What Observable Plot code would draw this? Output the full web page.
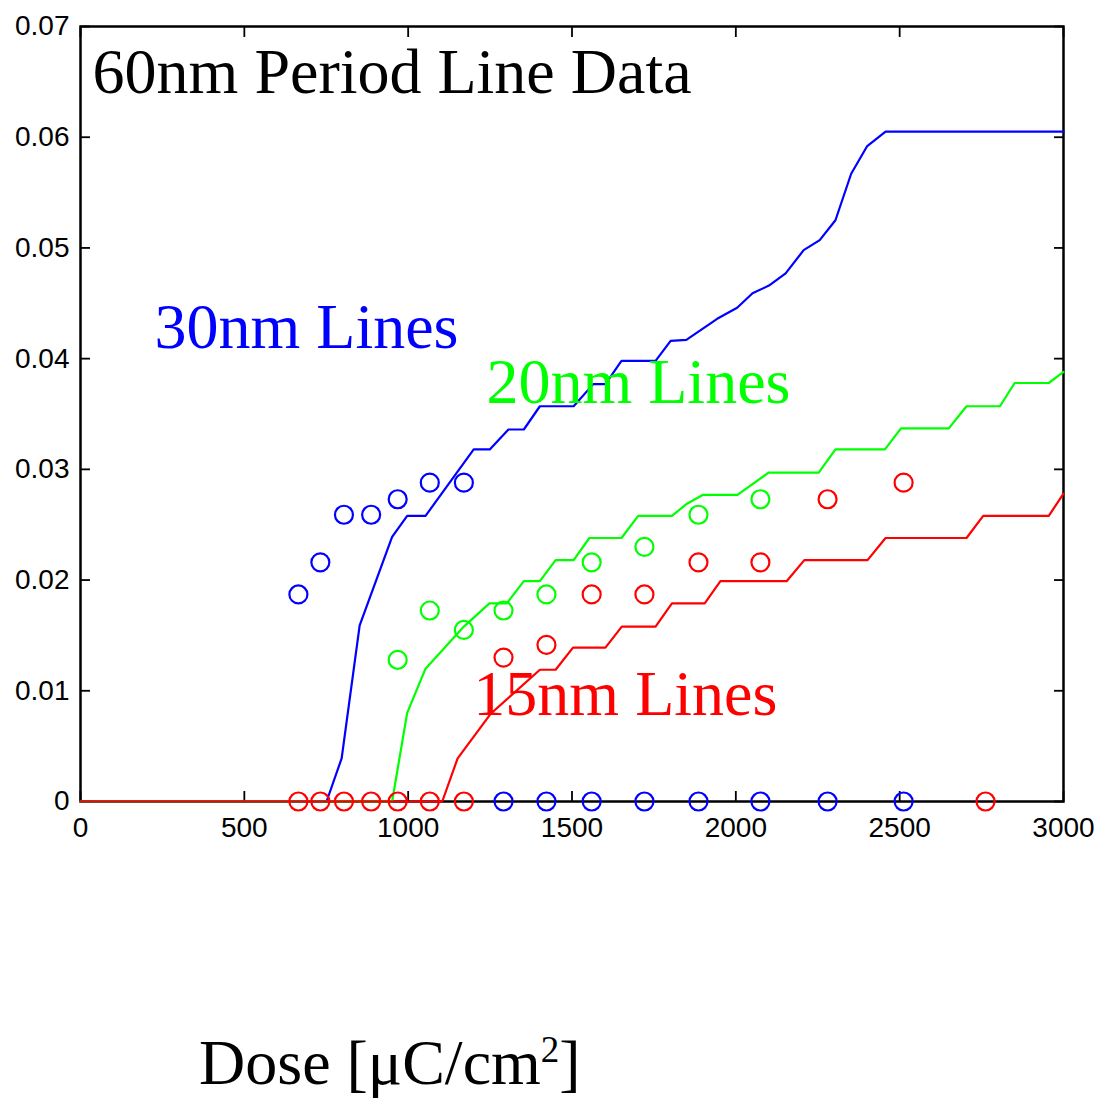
<!DOCTYPE html>
<html><head><meta charset="utf-8">
<script src="https://cdn.jsdelivr.net/npm/d3@7"></script>
<script src="https://cdn.jsdelivr.net/npm/@observablehq/plot@0.6"></script>
<style>
body{margin:0;background:#fff;}
#wrap{position:relative;width:1115px;height:1101px;background:#fff;}
#xlabel{position:absolute;left:199px;top:1031px;font-family:"Liberation Serif","Times New Roman",serif;font-size:64px;line-height:64px;white-space:nowrap;color:#000;}
#xlabel span{font-size:37px;position:relative;top:-22px;}
</style></head>
<body><div id="wrap"><div id="chart"></div><div id="xlabel">Dose [μC/cm<span>2</span>]</div></div>
<script>
// Tick values
const xTicks = [0, 500, 1000, 1500, 2000, 2500, 3000];
const yTicks = [0, 0.01, 0.02, 0.03, 0.04, 0.05, 0.06, 0.07];

// Simulated curves (lines)
const line30Dose = [0, 751, 797, 852, 951, 997, 1053, 1200, 1249, 1306, 1353, 1402, 1505, 1565, 1602, 1651, 1755, 1801, 1849, 1943, 2004, 2051, 2101, 2152, 2207, 2256, 2304, 2352, 2401, 2457, 3000];
const line30Val  = [0, 0, 0.0039, 0.0159, 0.0239, 0.0258, 0.0258, 0.0318, 0.0318, 0.0336, 0.0336, 0.0357, 0.0357, 0.0377, 0.0377, 0.0398, 0.0398, 0.0416, 0.0417, 0.0436, 0.0446, 0.0459, 0.0466, 0.0477, 0.0498, 0.0507, 0.0525, 0.0567, 0.0592, 0.0605, 0.0605];

const line20Dose = [0, 951, 997, 1053, 1170, 1248, 1301, 1353, 1402, 1450, 1505, 1553, 1651, 1702, 1805, 1851, 1900, 2005, 2100, 2253, 2304, 2455, 2504, 2650, 2704, 2806, 2851, 2955, 3000];
const line20Val  = [0, 0, 0.0080, 0.0120, 0.0158, 0.0179, 0.0179, 0.0199, 0.0199, 0.0218, 0.0218, 0.0238, 0.0238, 0.0258, 0.0258, 0.0269, 0.0277, 0.0277, 0.0297, 0.0297, 0.0318, 0.0318, 0.0337, 0.0337, 0.0357, 0.0357, 0.0378, 0.0378, 0.0388];

const line15Dose = [0, 1104, 1151, 1251, 1402, 1450, 1503, 1602, 1652, 1755, 1805, 1905, 1953, 2155, 2209, 2402, 2457, 2704, 2755, 2955, 3000];
const line15Val  = [0, 0, 0.0039, 0.0079, 0.0119, 0.0119, 0.0139, 0.0139, 0.0158, 0.0158, 0.0179, 0.0179, 0.0199, 0.0199, 0.0218, 0.0218, 0.0238, 0.0238, 0.0258, 0.0258, 0.0278];

// Measured data (circles)
const measDose = [665, 732, 804, 887, 968, 1066, 1170, 1291, 1422, 1560, 1721, 1886, 2075, 2280, 2512, 2762];
const meas30 = [0.0187, 0.0216, 0.0259, 0.0259, 0.0273, 0.0288, 0.0288, 0, 0, 0, 0, 0, 0, 0, 0, null];
const meas20 = [null, null, null, null, 0.0128, 0.01725, 0.0155, 0.01725, 0.0187, 0.0216, 0.0230, 0.0259, 0.0273, null, null, null];
const meas15 = [0, 0, 0, 0, 0, 0, 0, 0.0130, 0.01415, 0.0187, 0.0187, 0.0216, 0.0216, 0.0273, 0.0288, 0];

const BLUE = "#0000ff", GREEN = "#00ff00", RED = "#ff0000";

const toRows = (xs, ys) => xs.map((x, i) => ({dose: x, value: ys[i]})).filter(d => d.value != null);

const serif = "Liberation Serif, Times New Roman, serif";
const sans = "Liberation Sans, Arial, sans-serif";

const chart = Plot.plot({
  width: 1115,
  height: 870,
  marginLeft: 80,
  marginRight: 52,
  marginTop: 26,
  marginBottom: 69,
  x: {domain: [0, 3000]},
  y: {domain: [0, 0.07]},
  style: {fontFamily: sans, fontSize: "28px", background: "white", color: "black", overflow: "visible"},
  marks: [
    Plot.frame({stroke: "black", strokeWidth: 2.5}),
    Plot.axisY({anchor: "left", ticks: yTicks, tickSize: -10, tickPadding: 21, tickFormat: d => String(d), label: null, fontSize: 28, fontFamily: sans, strokeWidth: 1.8}),
    Plot.axisY({anchor: "right", ticks: yTicks, tickSize: -10, tickFormat: () => "", label: null, strokeWidth: 1.8}),
    Plot.axisX({anchor: "bottom", ticks: xTicks, tickSize: -10, tickPadding: 26, tickFormat: d => String(d), label: null, fontSize: 28, fontFamily: sans, strokeWidth: 1.8}),
    Plot.axisX({anchor: "top", ticks: xTicks, tickSize: -10, tickFormat: () => "", label: null, strokeWidth: 1.8}),
    Plot.line(toRows(line30Dose, line30Val), {x: "dose", y: "value", stroke: BLUE, strokeWidth: 2.2}),
    Plot.line(toRows(line20Dose, line20Val), {x: "dose", y: "value", stroke: GREEN, strokeWidth: 2.2}),
    Plot.line(toRows(line15Dose, line15Val), {x: "dose", y: "value", stroke: RED, strokeWidth: 2.2}),
    Plot.dot(toRows(measDose, meas30), {x: "dose", y: "value", r: 9, stroke: BLUE, strokeWidth: 2.2, fill: "none"}),
    Plot.dot(toRows(measDose, meas20), {x: "dose", y: "value", r: 9, stroke: GREEN, strokeWidth: 2.2, fill: "none"}),
    Plot.dot(toRows(measDose, meas15), {x: "dose", y: "value", r: 9, stroke: RED, strokeWidth: 2.2, fill: "none"}),
    Plot.text(["60nm Period Line Data"], {x: [37], y: [0.0640], text: d => d, fill: "black", textAnchor: "start", lineAnchor: "bottom", fontFamily: serif, fontSize: 64}),
    Plot.text(["30nm Lines"], {x: [226], y: [0.0410], text: d => d, fill: BLUE, textAnchor: "start", lineAnchor: "bottom", fontFamily: serif, fontSize: 64}),
    Plot.text(["20nm Lines"], {x: [1239], y: [0.0360], text: d => d, fill: GREEN, textAnchor: "start", lineAnchor: "bottom", fontFamily: serif, fontSize: 64}),
    Plot.text(["15nm Lines"], {x: [1199], y: [0.00777], text: d => d, fill: RED, textAnchor: "start", lineAnchor: "bottom", fontFamily: serif, fontSize: 64})
  ]
});
document.getElementById("chart").appendChild(chart);
</script>
</body></html>
